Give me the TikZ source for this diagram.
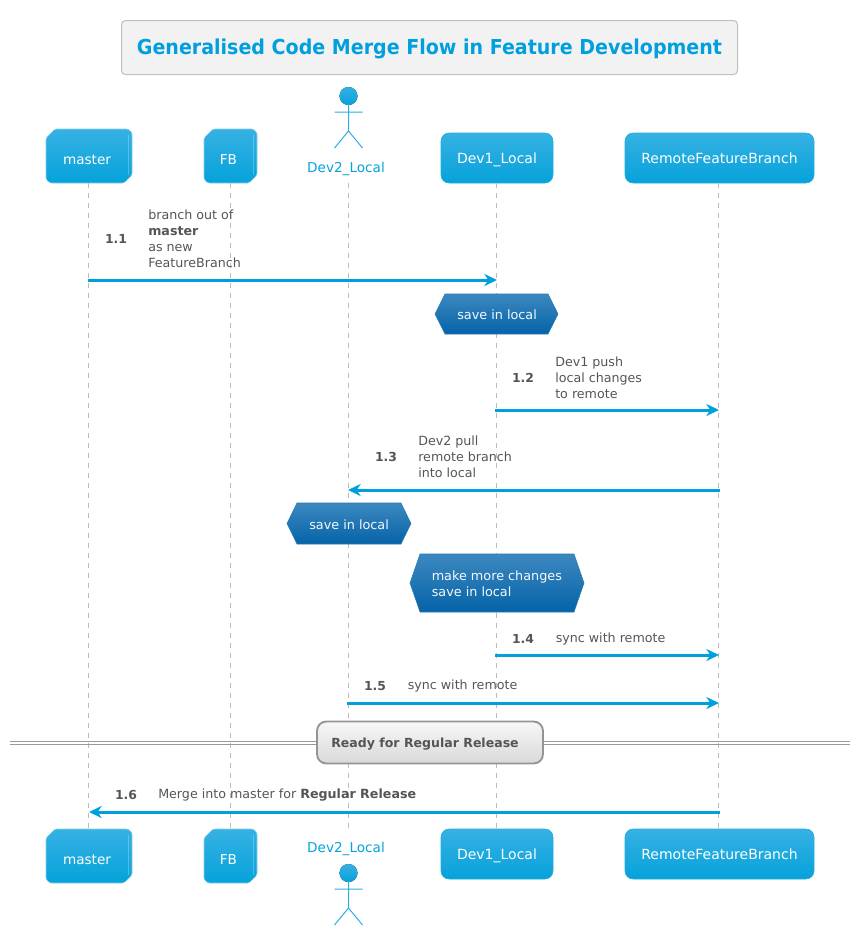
\documentclass[tikz,border=0pt]{standalone}
\usepackage{fontspec}
\setmainfont{DejaVu Sans}
\newfontfamily\titlefont[FakeStretch=0.927]{DejaVu Sans}
\usetikzlibrary{arrows.meta}
\definecolor{msgblue}{HTML}{009FDD}
\definecolor{partTop}{HTML}{36B1E3}
\definecolor{partBot}{HTML}{05A2DB}
\definecolor{hexTop}{HTML}{3C88BF}
\definecolor{hexBot}{HTML}{0563A8}
\definecolor{txtgray}{HTML}{555555}
\definecolor{lifegray}{HTML}{BBBBBB}
\definecolor{actorblue}{HTML}{2FADE0}
\tikzset{
  x=0.75pt,y=-0.75pt,
  lifeline/.style={draw=lifegray,line width=0.75pt,dash pattern=on 3.75pt off 3.75pt},
  msg/.style={draw=msgblue,line width=2.25pt,-{Stealth[length=9.5pt,width=9pt,inset=3pt]}},
  parttext/.style={text=white,font=\fontsize{10.2}{12}\selectfont,inner sep=0pt,text height=9.6pt,text depth=2pt},
  partbox/.style={parttext,font=\fontsize{10.5}{12}\selectfont,rounded corners=6pt,top color=partTop,bottom color=partBot,draw=partTop!60!partBot,line width=0.4pt},
  collshape/.style={top color=partTop,bottom color=partBot,draw=partTop!60!white,line width=0.4pt,rounded corners=1.2pt},
  hexshape/.style={top color=hexTop,bottom color=hexBot,draw=hexTop!60!hexBot,line width=0.4pt},
  hextext/.style={text=white!95!hexTop,font=\fontsize{9.6}{12}\selectfont,inner sep=0pt,align=left},
  num/.style={text=txtgray,font=\fontsize{9.3}{12}\bfseries\selectfont,inner sep=0pt,yshift=-0.75pt},
  msgtext/.style={text=txtgray,font=\fontsize{9.5}{12}\selectfont,inner sep=0pt,anchor=west,align=left,yshift=-0.75pt},
  actorline/.style={draw=actorblue,line width=0.75pt},
  actorname/.style={text=partBot,font=\fontsize{10.2}{12}\selectfont,inner sep=0pt,text height=9.6pt,text depth=2pt},
}
\newcommand{\collbox}[6]{% name x1 y1 x2 y2 text
  \path[collshape] (#2+9,#3) -- (#4-7,#3) arc[start angle=90,end angle=0,radius=5.25pt] -- (#4,#5-8) -- (#4-8,#5) -- (#2+7,#5) arc[start angle=270,end angle=180,radius=5.25pt] -- (#2,#3+9) -- cycle;
  \draw[white,opacity=.25,line width=0.4pt] (#4-4,#3+6) -- (#4-4,#5-8);
  \node[parttext] (#1) at ({(#2+#4)/2-2},{(#3+#5)/2+3}) {#6};
}
\newcommand{\hexbox}[7]{% name x1 y1 x2 y2 textx text
  \path[hexshape] (#2+10,#3) -- (#4-10,#3) -- (#4,{(#3+#5)/2}) -- (#4-10,#5) -- (#2+10,#5) -- (#2,{(#3+#5)/2}) -- cycle;
  \node[hextext,anchor=west] (#1) at (#6,{(#3+#5)/2+1}) {#7};
}
\newcommand{\actorfig}[2]{% x, head y
  \fill[top color=partTop,bottom color=partBot] (#1,#2) circle[radius=6.75pt];
  \path[actorline] (#1,#2+8) -- (#1,#2+35) (#1-14,#2+16) -- (#1+14,#2+16) (#1-14,#2+52) -- (#1,#2+35) -- (#1+14,#2+52);
}
\begin{document}
\begin{tikzpicture}
\useasboundingbox (0,0) rectangle (861,936);

% title
\node[top color=white!95!black,bottom color=white!95!black,draw=black!25,line width=0.75pt,rounded corners=3pt,minimum width=462pt,minimum height=40.5pt,inner sep=0pt,text=msgblue,text height=13.6pt,text depth=3pt] (title) at (429.5,47.5) {\titlefont\fontsize{15.4}{18}\bfseries\selectfont Generalised Code Merge Flow in Feature Development};

% head participants
\collbox{masterT}{46}{129}{132}{183}{master}
\collbox{fbT}{204}{129}{257}{183}{FB}
\node[actorname] (devtwoT) at (346,167) {Dev2\_Local};
\actorfig{348.5}{96}
\node[partbox,minimum width=84pt,minimum height=37.5pt] (devoneT) at (497,158) {Dev1\_Local};
\node[partbox,minimum width=141.75pt,minimum height=37.5pt] (remoteT) at (719.5,158) {RemoteFeatureBranch};

% foot participants
\collbox{masterB}{46}{829}{132}{883}{master}
\collbox{fbB}{204}{829}{257}{883}{FB}
\node[actorname] (devtwoB) at (346,847) {Dev2\_Local};
\actorfig{348.5}{873}
\node[partbox,minimum width=84pt,minimum height=37.5pt] (devoneB) at (497,854) {Dev1\_Local};
\node[partbox,minimum width=141.75pt,minimum height=37.5pt] (remoteB) at (719.5,854) {RemoteFeatureBranch};

% lifelines
\coordinate (lm1) at (88,183);  \coordinate (lm2) at (88,829);
\coordinate (lf1) at (230.5,183); \coordinate (lf2) at (230.5,829);
\coordinate (la1) at (348.5,183); \coordinate (la2) at (348.5,832);
\coordinate (ld1) at (496,183); \coordinate (ld2) at (496,829);
\coordinate (lr1) at (718,183); \coordinate (lr2) at (718,829);
\path[lifeline] (lm1) -- (lm2);
\path[lifeline] (lf1) -- (lf2);
\path[lifeline] (la1) -- (la2);
\path[lifeline] (ld1) -- (ld2);
\path[lifeline] (lr1) -- (lr2);

% message ends
\coordinate (m1a) at (88,280);    \coordinate (m1b) at (497,280);
\coordinate (m2a) at (495,410);   \coordinate (m2b) at (719,410);
\coordinate (m3a) at (720,490);   \coordinate (m3b) at (348,490);
\coordinate (m4a) at (495,655);   \coordinate (m4b) at (719,655);
\coordinate (m5a) at (347,703);   \coordinate (m5b) at (719,703);
\coordinate (m6a) at (720,812);   \coordinate (m6b) at (89,812);

\path[msg] (m1a) -- (m1b);
\node[num] (n1) at (116,238) {1.1};
\node[msgtext] (t1) at (148,238) {branch out of\\\textbf{master}\\as new\\FeatureBranch};

\hexbox{h1}{435}{294}{558}{334}{457}{save in local}

\path[msg] (m2a) -- (m2b);
\node[num] (n2) at (523,377) {1.2};
\node[msgtext] (t2) at (555,377) {Dev1 push\\local changes\\to remote};

\path[msg] (m3a) -- (m3b);
\node[num] (n3) at (386,456) {1.3};
\node[msgtext] (t3) at (418,456) {Dev2 pull\\remote branch\\into local};

\hexbox{h2}{287}{503}{411}{544}{309}{save in local}
\hexbox{h3}{410}{554}{584}{612}{431.5}{make more changes\\save in local}

\path[msg] (m4a) -- (m4b);
\node[num] (n4) at (523,638) {1.4};
\node[msgtext] (t4) at (555.5,638) {sync with remote};

\path[msg] (m5a) -- (m5b);
\node[num] (n5) at (375,685) {1.5};
\node[msgtext] (t5) at (407.5,685) {sync with remote};

% divider
\coordinate (divL) at (10,743);
\coordinate (divR) at (850,743);
\draw[black!40,line width=0.75pt] ([yshift=1.2pt]divL) -- ([yshift=1.2pt]divR);
\draw[black!40,line width=0.75pt] ([yshift=-1.2pt]divL) -- ([yshift=-1.2pt]divR);
\node[top color=white!97!black,bottom color=white!85!black,draw=black!42,line width=1.4pt,rounded corners=7pt,minimum width=169.5pt,minimum height=31.5pt,inner sep=0pt,text=txtgray,text height=9.2pt,text depth=2pt,font=\fontsize{9.4}{12}\bfseries\selectfont] (div) at (430,742.5) {Ready for Regular Release\hspace*{7.5pt}};

\path[msg] (m6a) -- (m6b);
\node[num] (n6) at (126,794) {1.6};
\node[msgtext] (t6) at (158,794) {Merge into master for \textbf{Regular Release}};
\end{tikzpicture}
\end{document}
